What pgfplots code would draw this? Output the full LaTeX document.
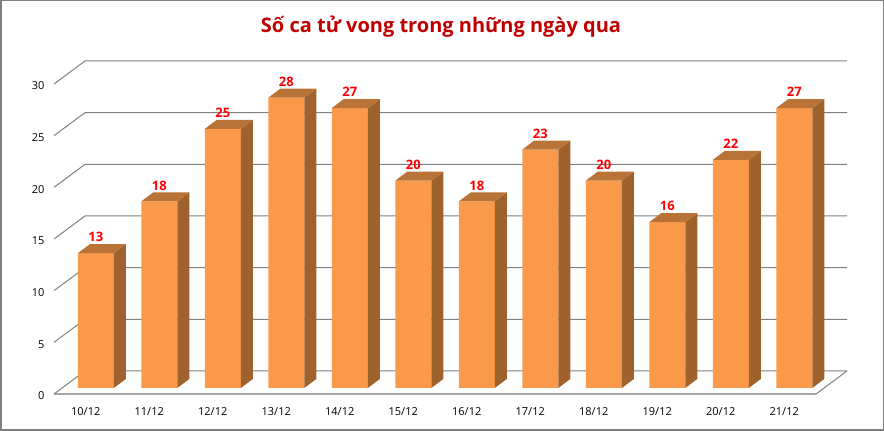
\documentclass[border=0pt]{standalone}
\usepackage{pgfplots}
\usepackage{pgfplotstable}
\usepackage{fontspec}
\pgfplotsset{compat=1.18}
\setmainfont{Open Sans}

\definecolor{barfront}{HTML}{FA994A}
\definecolor{barside}{HTML}{A0622D}
\definecolor{bartop}{HTML}{BA7336}
\definecolor{gridc}{HTML}{808080}
\definecolor{floorc}{HTML}{A6A6A6}
\definecolor{titlec}{HTML}{C00000}

\pgfplotstableread{
x v
0 13
1 18
2 25
3 28
4 27
5 20
6 18
7 23
8 20
9 16
10 22
11 27
}\deaths

% side and top faces of a bar, drawn from the front top centre
\pgfdeclareplotmark{bar3d}{%
  \pgfsetlinewidth{0pt}%
  \pgfsetfillcolor{barside}%
  \pgfpathmoveto{\pgfpoint{18pt}{0pt}}%
  \pgfpathlineto{\pgfpoint{30pt}{9pt}}%
  \pgfpathlineto{\pgfpoint{30pt}{9pt-\barh pt}}%
  \pgfpathlineto{\pgfpoint{18pt}{-\barh pt}}%
  \pgfpathclose
  \pgfusepathqfill
  \pgfsetfillcolor{bartop}%
  \pgfpathmoveto{\pgfpoint{-18pt}{0pt}}%
  \pgfpathlineto{\pgfpoint{18pt}{0pt}}%
  \pgfpathlineto{\pgfpoint{30pt}{9pt}}%
  \pgfpathlineto{\pgfpoint{-6pt}{9pt}}%
  \pgfpathclose
  \pgfusepathqfill
}

\begin{document}
\begin{tikzpicture}[x=1pt,y=1pt]
\draw[gray,line width=1.5pt] (0.75,0.75) rectangle (883.25,430.25);
\node[font=\fontsize{20}{22}\selectfont\bfseries,text=titlec] at (441,404) {Số ca tử vong trong những ngày qua};

% floor, walls, tick labels
\begin{axis}[
  at={(54pt,37pt)}, anchor=south west,
  scale only axis, width=762pt, height=310pt,
  xmin=-0.5, xmax=11.5, ymin=0, ymax=30,
  clip=false,
  axis x line=bottom, axis y line=left,
  axis line style={-},
  x axis line style={draw=floorc,line width=1.6pt},
  y axis line style={draw=none},
  major tick length=0pt,
  xtick={0,...,11},
  xticklabels={10/12,11/12,12/12,13/12,14/12,15/12,16/12,17/12,18/12,19/12,20/12,21/12},
  ytick={0,5,...,30},
  tick label style={font=\fontsize{11}{13}\selectfont,text=black},
  xticklabel style={yshift=-10pt},
  yticklabel style={xshift=-6pt,yshift=-2pt},
  /pgf/number format/assume math mode=true,
]
\pgfplotsinvokeforeach{0,5,...,30}{
  \draw[gridc,line width=1pt] (axis cs:-0.5,#1) -- ++(31pt,23pt) -- ++(762pt,0pt);
}
\draw[gridc,line width=1pt] (axis cs:11.5,0) -- ++(31pt,23pt);
\end{axis}

% the bars, standing on the middle of the floor
\begin{axis}[
  at={(64pt,43pt)}, anchor=south west,
  scale only axis, width=762pt, height=311pt,
  xmin=-0.5, xmax=11.5, ymin=0, ymax=30,
  clip=false, hide axis,
  /pgf/number format/assume math mode=true,
]
\addplot[only marks, scatter, mark=bar3d,
  visualization depends on={\thisrow{v}*10.367 \as \barh}]
  table[x=x,y=v] {\deaths};
\addplot[ybar, bar width=36pt, bar shift=0pt, fill=barfront, draw=none,
  nodes near coords,
  every node near coord/.append style={anchor=center,yshift=16pt,text=red,
    font=\fontsize{13}{15}\selectfont\bfseries}]
  table[x=x,y=v] {\deaths};
\end{axis}
\end{tikzpicture}
\end{document}
